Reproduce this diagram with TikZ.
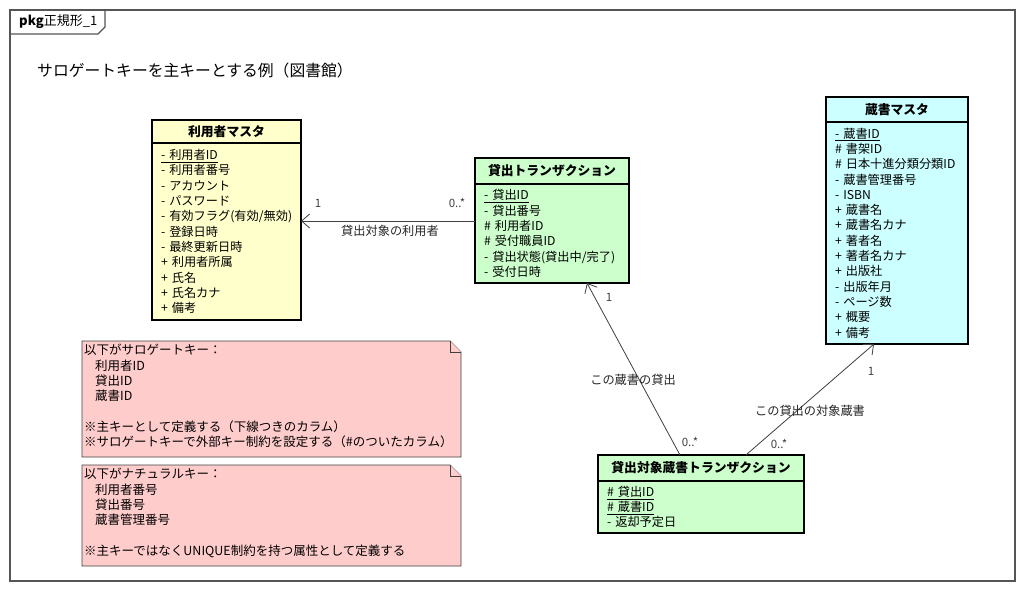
\documentclass[tikz,border=0pt]{standalone}
\usepackage{fontspec}
\setmainfont{Noto Sans CJK JP}
\usetikzlibrary{shapes,arrows.meta,positioning,calc}

\definecolor{userfill}{HTML}{FFFFCC}
\definecolor{loanfill}{HTML}{CCFFCC}
\definecolor{bookfill}{HTML}{CCFFFF}
\definecolor{notefill}{HTML}{FFCCCC}
\definecolor{framegray}{HTML}{555555}
\definecolor{linegray}{HTML}{404040}

\tikzset{
  clshead/.style={draw, line width=1.5pt, outer sep=0pt, inner sep=0pt,
    font=\fontsize{12.8}{14}\selectfont\bfseries},
  clsbody/.style={draw, line width=1.5pt, outer sep=0pt, inner xsep=9pt, inner ysep=0pt,
    align=left, font=\fontsize{12.2}{15.3}\selectfont},
  notebox/.style={draw=linegray, line width=0.8pt, fill=notefill},
  notetext/.style={anchor=north west, align=left, inner sep=0pt,
    font=\fontsize{12.5}{15.3}\selectfont},
  assoc/.style={draw=linegray, line width=0.8pt, -{Straight Barb[length=8pt,width=14pt]}},
  mult/.style={text=linegray, font=\fontsize{11.5}{13}\selectfont},
  rolelbl/.style={text=black!85, font=\fontsize{12.2}{13}\selectfont},
}

\begin{document}
\begin{tikzpicture}[x=1pt, y=-1pt]
    \useasboundingbox[fill=white] (0,0) rectangle (1024,591);

    % package frame
    \draw[draw=framegray, line width=1.2pt] (10,10) rectangle (1015,581);
    \draw[draw=framegray, line width=1.2pt] (10,34) -- (98,34) -- (105,27) -- (105,10);
    \node[anchor=west, inner sep=0pt, font=\fontsize{13}{14}\selectfont] (pkgname) at (19,22) {\textbf{pkg}正規形\_1};
    \node[anchor=west, inner sep=0pt, font=\fontsize{15.8}{18}\selectfont] (title) at (37,70) {サロゲートキーを主キーとする例（図書館）};

    % 利用者マスタ
    \node[clshead, fill=userfill, minimum width=149pt, minimum height=23pt] (userhead) at (226.5,131.5) {利用者マスタ};
    \node[clsbody, fill=userfill, text width=131pt, minimum height=177pt, below=0pt of userhead] (userbody)
      {\underline{- 利用者ID}\\- 利用者番号\\- アカウント\\- パスワード\\\mbox{- 有効フラグ(有効/無効)}\\- 登録日時\\- 最終更新日時\\+ 利用者所属\\+ 氏名\\+ 氏名カナ\\+ 備考};

    % 貸出トランザクション
    \node[clshead, fill=loanfill, minimum width=154pt, minimum height=26pt] (loanhead) at (552,171) {貸出トランザクション};
    \node[clsbody, fill=loanfill, text width=136pt, minimum height=99pt, below=0pt of loanhead] (loanbody)
      {\underline{- 貸出ID}\\- 貸出番号\\\# 利用者ID\\\# 受付職員ID\\\mbox{- 貸出状態(貸出中/完了)}\\- 受付日時};

    % 蔵書マスタ
    \node[clshead, fill=bookfill, minimum width=142pt, minimum height=25pt] (bookhead) at (897,109.5) {蔵書マスタ};
    \node[clsbody, fill=bookfill, text width=124pt, minimum height=222pt, below=0pt of bookhead] (bookbody)
      {\underline{- 蔵書ID}\\\# 書架ID\\\mbox{\# 日本十進分類分類ID}\\- 蔵書管理番号\\- ISBN\\+ 蔵書名\\+ 蔵書名カナ\\+ 著者名\\+ 著者名カナ\\+ 出版社\\- 出版年月\\- ページ数\\+ 概要\\+ 備考};

    % 貸出対象蔵書トランザクション
    \node[clshead, fill=loanfill, minimum width=206pt, minimum height=26pt] (targethead) at (701,468) {貸出対象蔵書トランザクション};
    \node[clsbody, fill=loanfill, text width=188pt, minimum height=52pt, below=0pt of targethead] (targetbody)
      {\underline{\# 貸出ID}\\\underline{\# 蔵書ID}\\- 返却予定日};

    % associations
    \coordinate (usery) at (0,221);
    \draw[assoc] (loanbody.west |- usery) -- (userbody.east |- usery);
    \draw[assoc] ($(targethead.north west)!0.398!(targethead.north east)$) -- ($(loanbody.south west)!0.727!(loanbody.south east)$);
    \draw[assoc] ($(targethead.north west)!0.718!(targethead.north east)$) -- ($(bookbody.south west)!0.338!(bookbody.south east)$);

    \node[mult] (usermult) at (318,203) {1};
    \node[mult] (loanmult) at (457,203) {0..*};
    \node[rolelbl] (userrole) at (390,231) {貸出対象の利用者};
    \node[mult] (loanmultb) at (609,297) {1};
    \node[rolelbl] (loanrole) at (633,380) {この蔵書の貸出};
    \node[mult] (targetmulta) at (690,442) {0..*};
    \node[mult] (bookmult) at (871,371) {1};
    \node[rolelbl] (bookrole) at (810,411) {この貸出の対象蔵書};
    \node[mult] (targetmultb) at (779,444) {0..*};

    % notes
    \draw[notebox] (82,341) -- (450,341) -- (461,352) -- (461,457) -- (82,457) -- cycle;
    \draw[notebox] (450,341) -- (450,352) -- (461,352);
    \node[notetext] (surrnote) at (84,344)
      {以下がサロゲートキー：\\\hspace{11pt}利用者ID\\\hspace{11pt}貸出ID\\\hspace{11pt}蔵書ID\\[15.3pt]※主キーとして定義する（下線つきのカラム）\\※サロゲートキーで外部キー制約を設定する（\#のついたカラム）};

    \draw[notebox] (82,465) -- (450,465) -- (461,476) -- (461,566) -- (82,566) -- cycle;
    \draw[notebox] (450,465) -- (450,476) -- (461,476);
    \node[notetext] (natnote) at (84,468)
      {以下がナチュラルキー：\\\hspace{11pt}利用者番号\\\hspace{11pt}貸出番号\\\hspace{11pt}蔵書管理番号\\[15.3pt]※主キーではなくUNIQUE制約を持つ属性として定義する};
\end{tikzpicture}
\end{document}
